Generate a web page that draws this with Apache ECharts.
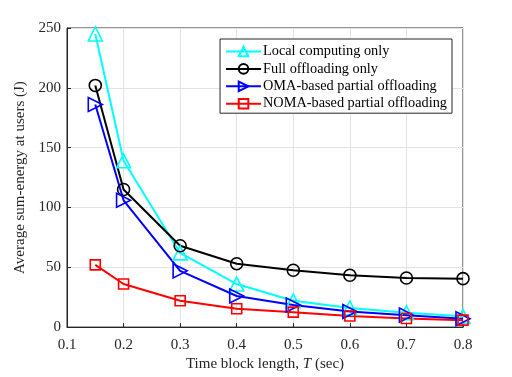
<!DOCTYPE html>
<html><head><meta charset="utf-8">
<script src="https://cdn.jsdelivr.net/npm/echarts@6/dist/echarts.min.js"></script>
<style>html,body{margin:0;padding:0;background:#fff}#c{width:512px;height:377px}</style>
</head><body><div id="c"></div>
<script>
var T = [0.15, 0.2, 0.3, 0.4, 0.5, 0.6, 0.7, 0.8];
var localOnly = [245, 139, 62, 36, 22, 16, 12, 9];
var fullOff = [202, 115, 68, 53, 47.5, 43.3, 41, 40.5];
var omaPartial = [186, 106, 47, 26, 18.5, 13, 10, 7];
var nomaPartial = [52, 36, 22, 15.3, 12.5, 9.3, 7.2, 5.8];
var names = ['Local computing only', 'Full offloading only', 'OMA-based partial offloading', 'NOMA-based partial offloading'];
var yTicks = [0, 50, 100, 150, 200, 250];

function pairs(v){ return T.map(function(t,i){ return [t, v[i]]; }); }
var font = 'Liberation Serif';
var chart = echarts.init(document.getElementById('c'));
function mk(name, data, color, symbol, size, rot){
  return {name:name, type:'line', data:pairs(data), symbol:symbol, symbolSize:size, symbolRotate:rot||0,
    lineStyle:{color:color, width:2}, itemStyle:{color:'rgba(255,255,255,0)', borderColor:color, borderWidth:1.6},
    emphasis:{disabled:true}, animation:false, z:3};
}
chart.setOption({
  backgroundColor:'#fff',
  animation:false,
  grid:{left:67, right:49, top:28, bottom:45, show:true, borderColor:'#262626', borderWidth:1},
  legend:{orient:'vertical', right:60, top:39, backgroundColor:'#fff', borderColor:'#262626', borderWidth:1,
    padding:[5,5,2,5], itemGap:2.4, itemWidth:35, itemHeight:12,
    textStyle:{fontFamily:font, fontSize:14.3, lineHeight:15, color:'#000', padding:[0,0,0,-3]}, data:names},
  xAxis:{type:'value', min:0.1, max:0.8, interval:0.1,
    name:'Time block length, {i|T} (sec)', nameLocation:'middle', nameGap:29,
    nameTextStyle:{fontFamily:font, fontSize:15, color:'#262626', rich:{i:{fontFamily:font, fontSize:15, fontStyle:'italic', color:'#262626'}}},
    axisLine:{lineStyle:{color:'#262626'}}, axisTick:{inside:true, length:4, lineStyle:{color:'#262626'}},
    axisLabel:{fontFamily:font, fontSize:15, color:'#262626', margin:10, formatter:function(v){return v.toFixed(1);}},
    splitLine:{show:true, lineStyle:{color:'#e3e3e3', width:1}}},
  yAxis:{type:'value', min:0, max:250, interval:50,
    name:'Average sum-energy at users (J)', nameLocation:'middle', nameGap:33,
    nameTextStyle:{fontFamily:font, fontSize:15, color:'#262626'},
    axisLine:{show:true, lineStyle:{color:'#262626'}}, axisTick:{show:true, inside:true, length:4, lineStyle:{color:'#262626'}},
    axisLabel:{fontFamily:font, fontSize:15, color:'#262626', margin:6, formatter:function(v){return yTicks.indexOf(v)>=0?String(v):'';}},
    splitLine:{show:true, lineStyle:{color:'#e3e3e3', width:1}}},
  series:[
    mk(names[0], localOnly, '#00ffff', 'triangle', 14),
    mk(names[1], fullOff, '#000000', 'circle', 12),
    mk(names[2], omaPartial, '#0000ff', 'triangle', 14, -90),
    mk(names[3], nomaPartial, '#ff0000', 'rect', 10)
  ]
});
</script></body></html>
